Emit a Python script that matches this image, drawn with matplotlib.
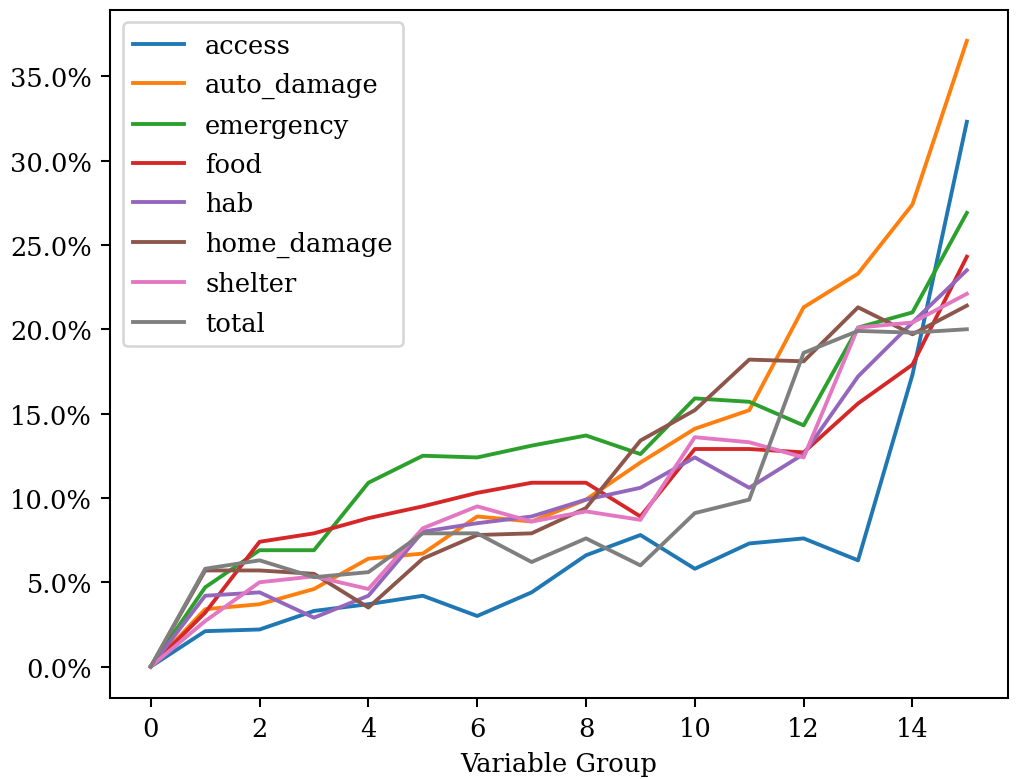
import numpy as np
import matplotlib
matplotlib.use('Agg')
import matplotlib.pyplot as plt
from matplotlib.ticker import PercentFormatter

plt.rcParams['font.family'] = 'DejaVu Serif'

groups = np.arange(16)
access = [0, 2.1, 2.2, 3.3, 3.7, 4.2, 3.0, 4.4, 6.6, 7.8, 5.8, 7.3, 7.6, 6.3, 17.3, 32.3]
auto_damage = [0, 3.4, 3.7, 4.6, 6.4, 6.7, 8.9, 8.6, 9.9, 12.1, 14.1, 15.2, 21.3, 23.3, 27.4, 37.1]
emergency = [0, 4.7, 6.9, 6.9, 10.9, 12.5, 12.4, 13.1, 13.7, 12.6, 15.9, 15.7, 14.3, 20.1, 21.0, 26.9]
food = [0, 3.2, 7.4, 7.9, 8.8, 9.5, 10.3, 10.9, 10.9, 8.9, 12.9, 12.9, 12.7, 15.6, 17.9, 24.3]
hab = [0, 4.2, 4.4, 2.9, 4.2, 8.0, 8.5, 8.9, 9.9, 10.6, 12.4, 10.6, 12.6, 17.2, 20.4, 23.5]
home_damage = [0, 5.7, 5.7, 5.5, 3.5, 6.4, 7.8, 7.9, 9.4, 13.4, 15.2, 18.2, 18.1, 21.3, 19.7, 21.4]
shelter = [0, 2.7, 5.0, 5.35, 4.6, 8.2, 9.5, 8.6, 9.2, 8.7, 13.6, 13.3, 12.4, 20.1, 20.4, 22.1]
total = [0, 5.8, 6.3, 5.3, 5.6, 7.9, 7.9, 6.2, 7.6, 6.0, 9.1, 9.9, 18.6, 19.9, 19.8, 20.0]

series = {'access': access, 'auto_damage': auto_damage, 'emergency': emergency,
          'food': food, 'hab': hab, 'home_damage': home_damage,
          'shelter': shelter, 'total': total}

dpi = 185
fig, ax = plt.subplots(figsize=(1023 / dpi, 780 / dpi), dpi=dpi)
fig.subplots_adjust(left=0.1075, right=0.985, top=0.9865, bottom=0.104)
for name, vals in series.items():
    ax.plot(groups, vals, label=name, linewidth=1.5)
ax.yaxis.set_major_formatter(PercentFormatter(xmax=100, decimals=1))
ax.set_xlabel('Variable Group')
ax.legend(loc='upper left', labelspacing=0.56)
plt.savefig('out.png', dpi=dpi)
